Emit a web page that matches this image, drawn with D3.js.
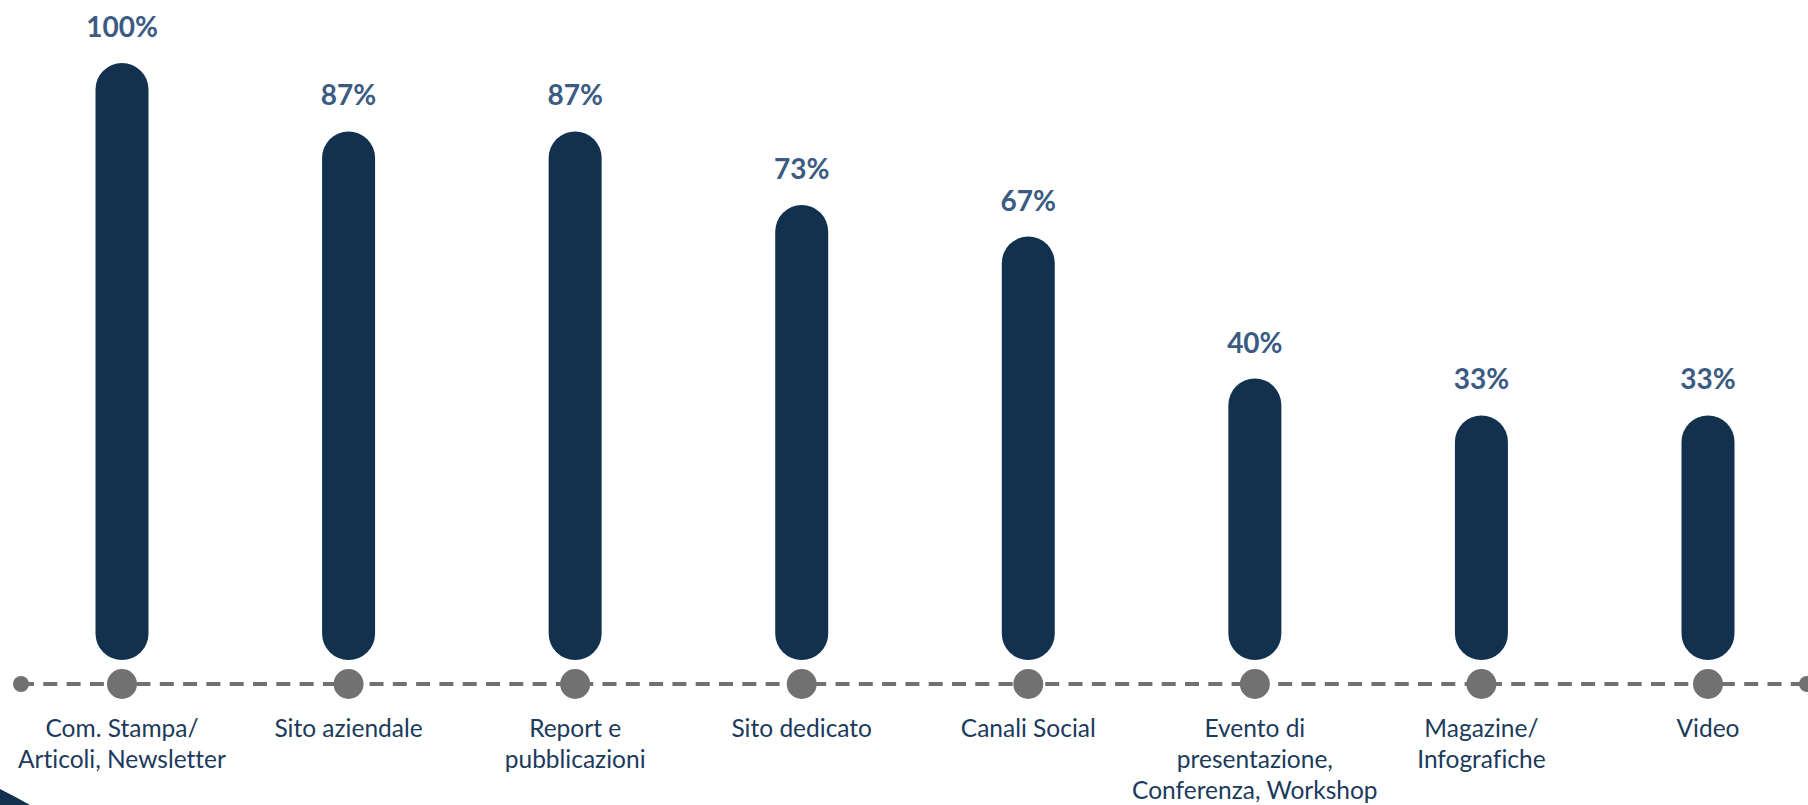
<!DOCTYPE html>
<html>
<head>
<meta charset="utf-8">
<script src="https://cdn.jsdelivr.net/npm/d3@7"></script>
<style>
  html, body { margin: 0; padding: 0; background: #ffffff; }
  svg { display: block; }
  text { font-variant-ligatures: none; font-feature-settings: "liga" 0, "clig" 0; }
</style>
</head>
<body>
<svg id="chart" width="1808" height="805"></svg>
<script>
// Channels used for communication, share of respondents (%)
const categories = [
  ["Com. Stampa/", "Articoli, Newsletter"],
  ["Sito aziendale"],
  ["Report e", "pubblicazioni"],
  ["Sito dedicato"],
  ["Canali Social"],
  ["Evento di", "presentazione,", "Conferenza, Workshop"],
  ["Magazine/", "Infografiche"],
  ["Video"]
];
const values = [100, 87, 87, 73, 67, 40, 33, 33];
const valueLabels = ["100%", "87%", "87%", "73%", "67%", "40%", "33%", "33%"];

const W = 1808, H = 805;
const svg = d3.select("#chart");

const barColor = "#12314f";
const valueColor = "#3b5b83";
const textColor = "#1b3a5c";
const lineColor = "#717171";
const font = "Lato, 'Open Sans', sans-serif";

const baseY = 660;      // bottom of the bars
const lineY = 684;      // dashed timeline
const barW = 53;

const keys = categories.map((d, i) => "c" + i);
const x = d3.scalePoint().domain(keys).range([122, 1708]);
const y = d3.scaleLinear().domain([0, 100]).range([589, 63]);

// decorative corner shape
svg.append("path")
  .attr("d", "M0,789 Q14,796 30,805 L0,805 Z")
  .attr("fill", "#12314f");

// dashed timeline with end caps
svg.append("line")
  .attr("x1", 20).attr("x2", 1808)
  .attr("y1", lineY).attr("y2", lineY)
  .attr("stroke", lineColor)
  .attr("stroke-width", 4)
  .attr("stroke-dasharray", "14,9.3");

svg.selectAll("circle.end")
  .data([21, 1807])
  .join("circle")
  .attr("class", "end")
  .attr("cx", d => d).attr("cy", lineY).attr("r", 8)
  .attr("fill", lineColor);

// bars
svg.selectAll("rect.bar")
  .data(values)
  .join("rect")
  .attr("class", "bar")
  .attr("x", (d, i) => x(keys[i]) - barW / 2)
  .attr("width", barW)
  .attr("y", d => y(d))
  .attr("height", d => baseY - y(d))
  .attr("rx", barW / 2).attr("ry", barW / 2)
  .attr("fill", barColor);

// markers on the timeline
svg.selectAll("circle.dot")
  .data(values)
  .join("circle")
  .attr("class", "dot")
  .attr("cx", (d, i) => x(keys[i]))
  .attr("cy", lineY)
  .attr("r", 15)
  .attr("fill", lineColor);

// value labels
svg.selectAll("text.val")
  .data(values)
  .join("text")
  .attr("class", "val")
  .attr("x", (d, i) => x(keys[i]))
  .attr("y", d => y(d) - 26)
  .attr("text-anchor", "middle")
  .attr("font-family", font)
  .attr("font-weight", 700)
  .attr("font-size", 28)
  .attr("fill", valueColor)
  .text((d, i) => valueLabels[i]);

// category labels
const cat = svg.selectAll("text.cat")
  .data(categories)
  .join("text")
  .attr("class", "cat")
  .attr("text-anchor", "middle")
  .attr("font-family", font)
  .attr("font-size", 24.5)
  .attr("fill", textColor);

cat.selectAll("tspan")
  .data((d, i) => d.map((line, j) => ({ line, j, i })))
  .join("tspan")
  .attr("x", d => x(keys[d.i]))
  .attr("y", d => 737 + d.j * 31)
  .text(d => d.line);
</script>
</body>
</html>
